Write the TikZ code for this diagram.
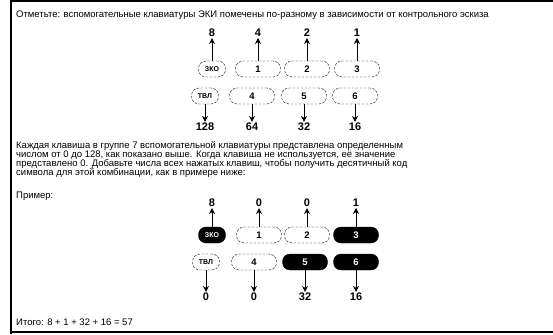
\documentclass[tikz,border=0pt]{standalone}
\usepackage{fontspec}
\setmainfont{Liberation Sans}
\usetikzlibrary{arrows.meta}
\begin{document}
\begin{tikzpicture}[x=1pt,y=-1pt,
  txt/.style={anchor=west,inner sep=0pt,font=\fontsize{9.5}{9}\selectfont},
  key/.style={draw,dashed,dash pattern=on 2.5pt off 1.5pt,rounded corners=7.5pt,minimum height=16pt,inner sep=1pt,font=\fontsize{9.5}{10}\selectfont\bfseries},
  wide/.style={key,minimum width=45pt},
  narrow/.style={key,minimum width=27pt,font=\fontsize{7}{7}\selectfont\bfseries},
  dark/.style={fill=black,text=white,solid},
  lbl/.style={inner sep=1pt,font=\fontsize{11}{11}\selectfont\bfseries},
  arr/.style={-{Stealth[length=6pt,width=6pt]},line width=0.6pt}]
\useasboundingbox (0,0) rectangle (553,334);
\draw[line width=2pt] (11,1) -- (553,1);
\draw[line width=2pt] (11,332) -- (553,332);
\draw[line width=2pt] (11,0) -- (11,334);

\node[txt] (t1) at (16,15) {Отметьте: вспомогательные клавиатуры ЭКИ помечены по-разному в зависимости от контрольного эскиза};

% diagram 1
\node[narrow] (a0) at (212,69) {ЗКО};
\node[wide] (a1) at (258,69) {1};
\node[wide] (a2) at (307,69) {2};
\node[wide] (a3) at (357,69) {3};
\node[narrow] (b0) at (205,96) {ТВЛ};
\node[wide] (b1) at (252,96) {4};
\node[wide] (b2) at (304,96) {5};
\node[wide] (b3) at (355,96) {6};
\node[lbl] (la0) at (212,33) {8};
\node[lbl] (la1) at (258,33) {4};
\node[lbl] (la2) at (307,33) {2};
\node[lbl] (la3) at (357,33) {1};
\node[lbl] (lb0) at (205,127) {128};
\node[lbl] (lb1) at (252,127) {64};
\node[lbl] (lb2) at (304,127) {32};
\node[lbl] (lb3) at (355,127) {16};
\foreach \i in {0,1,2,3} {
  \draw[arr] (a\i.north) -- (la\i.south);
  \draw[arr] (b\i.south) -- (lb\i.north);
}

\node[txt] (p1) at (16,146) {Каждая клавиша в группе 7 вспомогательной клавиатуры представлена определенным};
\node[txt] (p2) at (16,155) {числом от 0 до 128, как показано выше. Когда клавиша не используется, её значение};
\node[txt] (p3) at (16,164) {представлено 0. Добавьте числа всех нажатых клавиш, чтобы получить десятичный код};
\node[txt] (p4) at (16,173) {символа для этой комбинации, как в примере ниже:};
\node[txt] (p5) at (16,196) {Пример:};

% diagram 2
\node[narrow,dark] (c0) at (212,235) {ЗКО};
\node[wide] (c1) at (259,235) {1};
\node[wide] (c2) at (307,235) {2};
\node[wide,dark] (c3) at (356,235) {3};
\node[narrow] (d0) at (206,262) {ТВЛ};
\node[wide] (d1) at (254,262) {4};
\node[wide,dark] (d2) at (305,262) {5};
\node[wide,dark] (d3) at (356,262) {6};
\node[lbl] (lc0) at (212,203) {8};
\node[lbl] (lc1) at (259,203) {0};
\node[lbl] (lc2) at (307,203) {0};
\node[lbl] (lc3) at (356,203) {1};
\node[lbl] (ld0) at (206,297) {0};
\node[lbl] (ld1) at (254,297) {0};
\node[lbl] (ld2) at (305,297) {32};
\node[lbl] (ld3) at (356,297) {16};
\foreach \i in {0,1,2,3} {
  \draw[arr] (c\i.north) -- (lc\i.south);
  \draw[arr] (d\i.south) -- (ld\i.north);
}

\node[txt] (r) at (16,322) {Итого: 8 + 1 + 32 + 16 = 57};
\end{tikzpicture}
\end{document}
